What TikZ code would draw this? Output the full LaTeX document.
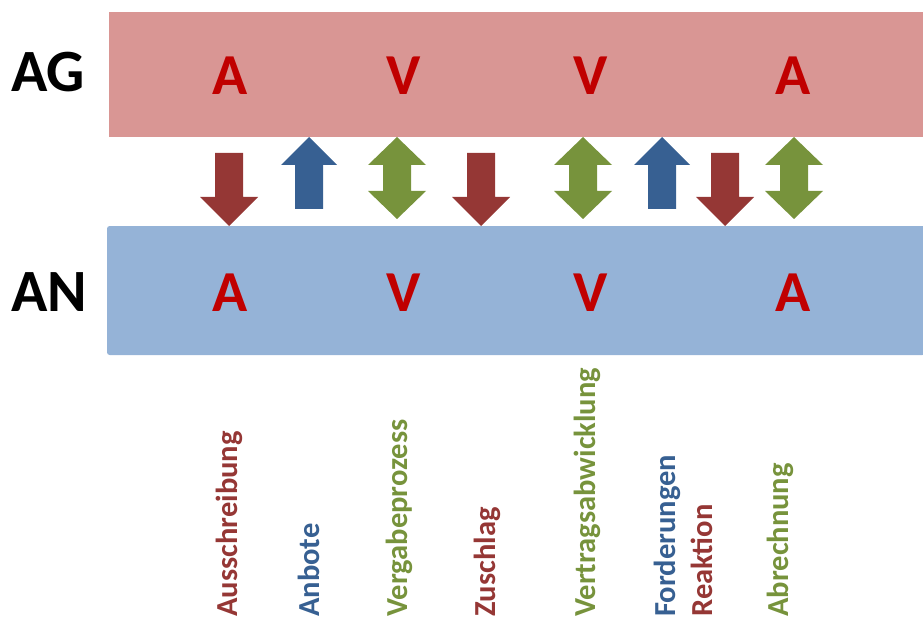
\documentclass[tikz,border=0pt]{standalone}
\usepackage{fontspec}
\setmainfont{Carlito}
\usetikzlibrary{positioning}
\definecolor{agpink}{HTML}{D99694}
\definecolor{anblue}{HTML}{95B3D7}
\definecolor{letred}{HTML}{C00000}
\definecolor{arrred}{HTML}{953735}
\definecolor{arrblue}{HTML}{376092}
\definecolor{arrgreen}{HTML}{77933C}
\tikzset{
  side/.style={font=\fontsize{45}{50}\selectfont\bfseries,inner sep=0pt,anchor=base west},
  phase/.style={font=\fontsize{43.5}{50}\selectfont\bfseries,text=letred,inner sep=0pt,anchor=base},
  lbl/.style={font=\fontsize{22.9}{26}\selectfont\bfseries,rotate=90,inner sep=0pt,anchor=base west},
  dnarrow/.pic={\fill[#1] (-14,153)--(14,153)--(14,197)--(29,197)--(0,226)--(-29,197)--(-14,197)--cycle;},
  uparrow/.pic={\fill[#1] (0,137)--(28,165)--(14,165)--(14,209)--(-14,209)--(-14,165)--(-28,165)--cycle;},
  bothway/.pic={\fill[#1] (0,137)--(29,165)--(14,165)--(14,191)--(29,191)--(0,219)--(-29,191)--(-14,191)--(-14,165)--(-29,165)--cycle;}
}

\begin{document}
\begin{tikzpicture}[x=0.75pt,y=-0.75pt]
  \useasboundingbox (0,0) rectangle (923,620);
  % bands
  \fill[agpink] (109,12) rectangle (923,137);
  \fill[anblue,rounded corners=2] (107,226) rectangle (925,355);
  \node[side] (ag) at (11,92) {AG};
  \node[side] (an) at (11,311) {AN};
  \foreach \x/\l [count=\i] in {230/A,404/V,591/V,793/A}{
    \node[phase] (t\i) at (\x,95) {\l};
    \node[phase] (b\i) at (\x,311) {\l};
  }
  % arrows between the bands
  \foreach \x/\k/\c [count=\i] in {229/dnarrow/arrred,309/uparrow/arrblue,397/bothway/arrgreen,
                                   481/dnarrow/arrred,583/bothway/arrgreen,662/uparrow/arrblue,
                                   725/dnarrow/arrred,794/bothway/arrgreen}{
    \pic (arr\i) at (\x,0) {\k=\c};
  }
  % steps
  \foreach \x/\s/\c [count=\i] in {237/Ausschreibung/arrred,319/Anbote/arrblue,
                                   407/Vergabeprozess/arrgreen,495/Zuschlag/arrred,
                                   595/Vertragsabwicklung/arrgreen,675/Forderungen/arrblue,
                                   712/Reaktion/arrred,788/Abrechnung/arrgreen}{
    \node[lbl,text=\c] (s\i) at (\x,617) {\s};
  }
\end{tikzpicture}
\end{document}
